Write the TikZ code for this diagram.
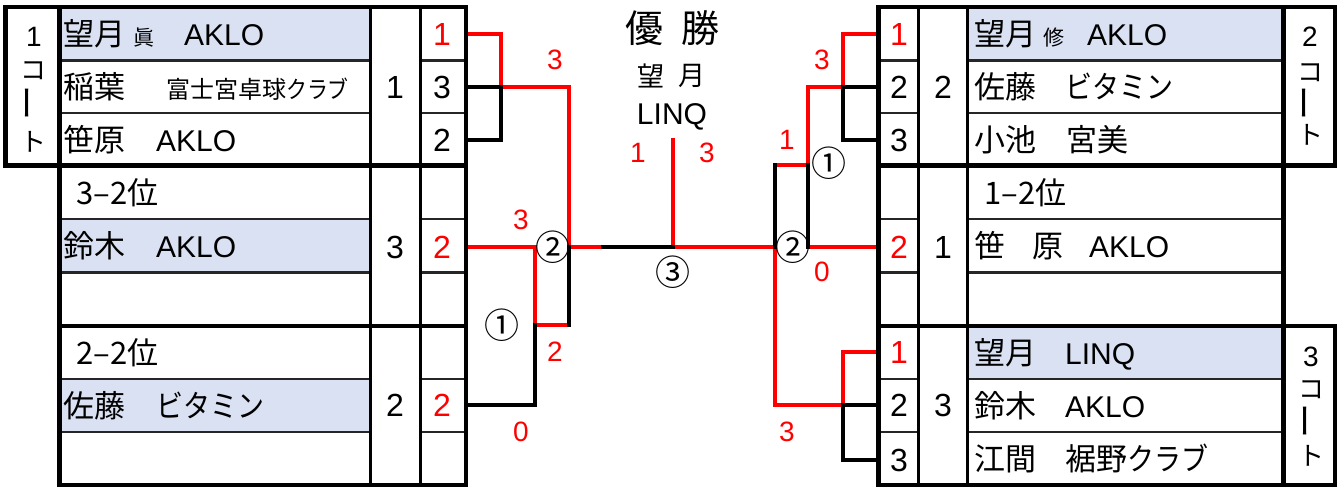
\documentclass[tikz,border=0pt]{standalone}
\usepackage{graphicx}
\usepackage{fontspec}
\setmainfont{Liberation Sans}
\newfontfamily\J{Noto Sans CJK JP}
\definecolor{hl}{RGB}{217,225,242}
\definecolor{wred}{RGB}{255,0,0}
\newcommand{\kn}[1]{\scalebox{0.87}[1]{#1}}
\begin{document}
\begin{tikzpicture}[x=1pt,y=-1pt,
  thk/.style={line width=4.5pt},
  midl/.style={line width=3pt},
  thn/.style={line width=2.5pt, draw=black!85},
  win/.style={draw=wred,line width=4pt,line cap=rect},
  lose/.style={draw=black,line width=4pt,line cap=rect},
  nmj/.style={font=\J\fontsize{31}{31}\selectfont,anchor=base west,inner sep=0pt},
  nml/.style={font=\fontsize{30}{30}\selectfont,anchor=base west,inner sep=0pt},
  smj/.style={font=\J\fontsize{21}{21}\selectfont,anchor=base west,inner sep=0pt},
  clubj/.style={font=\J\fontsize{24}{24}\selectfont,anchor=base west,inner sep=0pt},
  num/.style={font=\fontsize{32}{32}\selectfont,inner sep=0pt},
  rnum/.style={num,text=wred},
  sc/.style={font=\fontsize{28}{28}\selectfont,inner sep=0pt,text=wred},
  circ/.style={font=\J\fontsize{35}{35}\selectfont,inner sep=0pt},
  courtj/.style={font=\J\fontsize{26}{26}\selectfont,inner sep=0pt},
  courtl/.style={font=\fontsize{28}{28}\selectfont,inner sep=0pt},
  bar/.style={font=\J\fontsize{35}{35}\selectfont,inner sep=0pt,rotate=90},
]
\useasboundingbox (0,0) rectangle (1344,489);
\fill[white] (0,0) rectangle (1344,489);

% highlights
\fill[hl] (59.5,7) rectangle (370,60.5);
\fill[hl] (59.5,219) rectangle (370,272.5);
\fill[hl] (59.5,379) rectangle (370,432);
\fill[hl] (967,7) rectangle (1283.5,60.5);
\fill[hl] (967,326) rectangle (1283.5,379);

% bracket coordinates
\coordinate (LA) at (466,34);
\coordinate (LB) at (466,87);
\coordinate (LC) at (466,140);
\coordinate (LD) at (466,247);
\coordinate (LE) at (466,405);
\coordinate (LM1) at (501,87);
\coordinate (LW1) at (569,87);
\coordinate (LW) at (569,247);
\coordinate (LQ) at (535,325);
\coordinate (LQ2) at (569,325);
\coordinate (LS) at (603,247);
\coordinate (CT) at (673,247);
\coordinate (CTop) at (673,140);
\coordinate (RW) at (775,247);
\coordinate (RW1) at (775,165);
\coordinate (RM) at (808,165);
\coordinate (RM2) at (808,247);
\coordinate (RM0) at (808,87);
\coordinate (RM1) at (843,87);
\coordinate (RQ) at (843,405);
\coordinate (RA) at (878.5,34);
\coordinate (RB) at (878.5,87);
\coordinate (RC) at (878.5,140);
\coordinate (RD) at (878.5,247);
\coordinate (RG) at (878.5,352);
\coordinate (RH) at (878.5,405);
\coordinate (RI) at (878.5,460);

% winners (red)
\draw[win] (LA) -| (LM1) -- (LW1) -- (LW);
\draw[win] (LD) -| (LQ) -- (LQ2);
\draw[win] (LW) -- (LS);
\draw[win] (CT) -- (RW);
\draw[win] (CTop) -- (CT);
\draw[win] (RA) -| (RM1) -- (RM0) -- (RM) -- (RW1);
\draw[win] (RD) -- (RM2);
\draw[win] (RW) |- (RQ) |- (RG);
% losers (black)
\draw[lose] (LB) -- (LM1) |- (LC);
\draw[lose] (LE) -| (LQ);
\draw[lose] (LW) -- (LQ2);
\draw[lose] (LS) -- (CT);
\draw[lose] (RB) -- (RM1) |- (RC);
\draw[lose] (RW1) -- (RW);
\draw[lose] (RM) -- (RM2);
\draw[lose] (RQ) -- (RH);
\draw[lose] (RQ) |- (RI);

% left table lines
\foreach \y in {60.5,113,219,272.5,379,432}{
  \draw[thn] (59.5,\y) -- (370,\y);
  \draw[thn] (420.5,\y) -- (466,\y);
}
\draw[midl] (370,7) -- (370,485);
\draw[midl] (420.5,7) -- (420.5,485);
\draw[thk] (5.5,7) rectangle (466,165.5);
\draw[thk] (59.5,165.5) rectangle (466,326);
\draw[thk] (59.5,326) rectangle (466,485);
\draw[thk] (59.5,7) -- (59.5,165.5);

% right table lines
\foreach \y in {60.5,113,219,272.5,379,432}{
  \draw[thn] (878.5,\y) -- (918.5,\y);
  \draw[thn] (967,\y) -- (1283.5,\y);
}
\draw[midl] (918.5,7) -- (918.5,485);
\draw[midl] (967,7) -- (967,485);
\draw[thk] (878.5,7) rectangle (1335,165.5);
\draw[thk] (878.5,165.5) rectangle (1283.5,326);
\draw[thk] (878.5,326) rectangle (1335,485);
\draw[thk] (1283.5,7) -- (1283.5,165.5);
\draw[thk] (1283.5,326) -- (1283.5,485);

% court labels
\node[courtl] (c1a) at (34,37) {1};
\node[courtj] (c1b) at (33,71) {コ};
\node[bar] (c1c) at (33,103) {ー};
\node[courtj] (c1d) at (33,142) {ト};
\node[courtl] (c2a) at (1310,37) {2};
\node[courtj] (c2b) at (1310,73) {コ};
\node[bar] (c2c) at (1310,103) {ー};
\node[courtj] (c2d) at (1310,135) {ト};
\node[courtl] (c3a) at (1311,357) {3};
\node[courtj] (c3b) at (1311,390) {コ};
\node[bar] (c3c) at (1311,421) {ー};
\node[courtj] (c3d) at (1311,456) {ト};

% left names
\node[nmj] (n1a) at (63,46) {望月};
\node[smj] (n1b) at (133,46) {眞};
\node[nml] (n1c) at (184,46) {AKLO};
\node[nmj] (n2a) at (63,99) {稲葉};
\node[clubj] (n2b) at (166,99) {富士宮卓球\kn{クラブ}};
\node[nmj] (n3a) at (63,151.5) {笹原};
\node[nml] (n3b) at (156,151.5) {AKLO};
\node[nmj] (n4a) at (76,204.5) {3–2位};
\node[nmj] (n5a) at (63,258) {鈴木};
\node[nml] (n5b) at (156,258) {AKLO};
\node[nmj] (n7a) at (76,364.5) {2–2位};
\node[nmj] (n8a) at (63,417.5) {佐藤};
\node[nmj] (n8b) at (156,417.5) {\kn{ビタミン}};

% left seeds and scores
\node[num] (ls1) at (395,87) {1};
\node[num] (ls2) at (395,247) {3};
\node[num] (ls3) at (395,405) {2};
\node[rnum] (lp1) at (442,34) {1};
\node[num] (lp2) at (442,87) {3};
\node[num] (lp3) at (442,140) {2};
\node[rnum] (lp5) at (442,247) {2};
\node[rnum] (lp8) at (442,405) {2};

% right names
\node[nmj] (m1a) at (974,46) {望月};
\node[smj] (m1b) at (1043,46) {修};
\node[nml] (m1c) at (1087,46) {AKLO};
\node[nmj] (m2a) at (974,99) {佐藤};
\node[nmj] (m2b) at (1065,99) {\kn{ビタミン}};
\node[nmj] (m3a) at (974,151.5) {小池};
\node[nmj] (m3b) at (1066,151.5) {宮美};
\node[nmj] (m4a) at (984,204.5) {1–2位};
\node[nmj] (m5a) at (974,258) {笹};
\node[nmj] (m5b) at (1032,258) {原};
\node[nml] (m5c) at (1089,258) {AKLO};
\node[nmj] (m7a) at (974,364.5) {望月};
\node[nml] (m7b) at (1065,364.5) {LINQ};
\node[nmj] (m8a) at (974,417.5) {鈴木};
\node[nml] (m8b) at (1065,417.5) {AKLO};
\node[nmj] (m9a) at (974,470.5) {江間};
\node[nmj] (m9b) at (1065,470.5) {裾野\kn{クラブ}};

% right seeds and scores
\node[num] (rs1) at (943,87) {2};
\node[num] (rs2) at (943,247) {1};
\node[num] (rs3) at (943,405) {3};
\node[rnum] (rp1) at (899,34) {1};
\node[num] (rp2) at (899,87) {2};
\node[num] (rp3) at (899,140) {3};
\node[rnum] (rp5) at (899,247) {2};
\node[rnum] (rp7) at (899,352) {1};
\node[num] (rp8) at (899,405) {2};
\node[num] (rp9) at (899,460) {3};

% bracket scores
\node[sc] (b1) at (555,60) {3};
\node[sc] (b2) at (521,220) {3};
\node[sc] (b3) at (555,352) {2};
\node[sc] (b4) at (521,432) {0};
\node[sc] (b5) at (638,153) {1};
\node[sc] (b6) at (707,153) {3};
\node[sc] (b7) at (822,60) {3};
\node[sc] (b8) at (787,140) {1};
\node[sc] (b9) at (822,272) {0};
\node[sc] (b10) at (787,432) {3};

% match numbers
\node[circ] (k1) at (553,247) {②};
\node[circ] (k2) at (502,325) {①};
\node[circ] (k3) at (673,272) {③};
\node[circ] (k4) at (793,247) {②};
\node[circ] (k5) at (829,163) {①};

% title
\node[font=\J\fontsize{38}{38}\selectfont,inner sep=0pt] (t1) at (644,28) {優};
\node[font=\J\fontsize{38}{38}\selectfont,inner sep=0pt] (t2) at (700,28) {勝};
\node[font=\J\fontsize{27}{27}\selectfont,inner sep=0pt] (t3) at (651,76) {望};
\node[font=\J\fontsize{27}{27}\selectfont,inner sep=0pt] (t4) at (692,76) {月};
\node[font=\fontsize{30}{30}\selectfont,inner sep=0pt] (t5) at (672,117) {LINQ};
\end{tikzpicture}
\end{document}
